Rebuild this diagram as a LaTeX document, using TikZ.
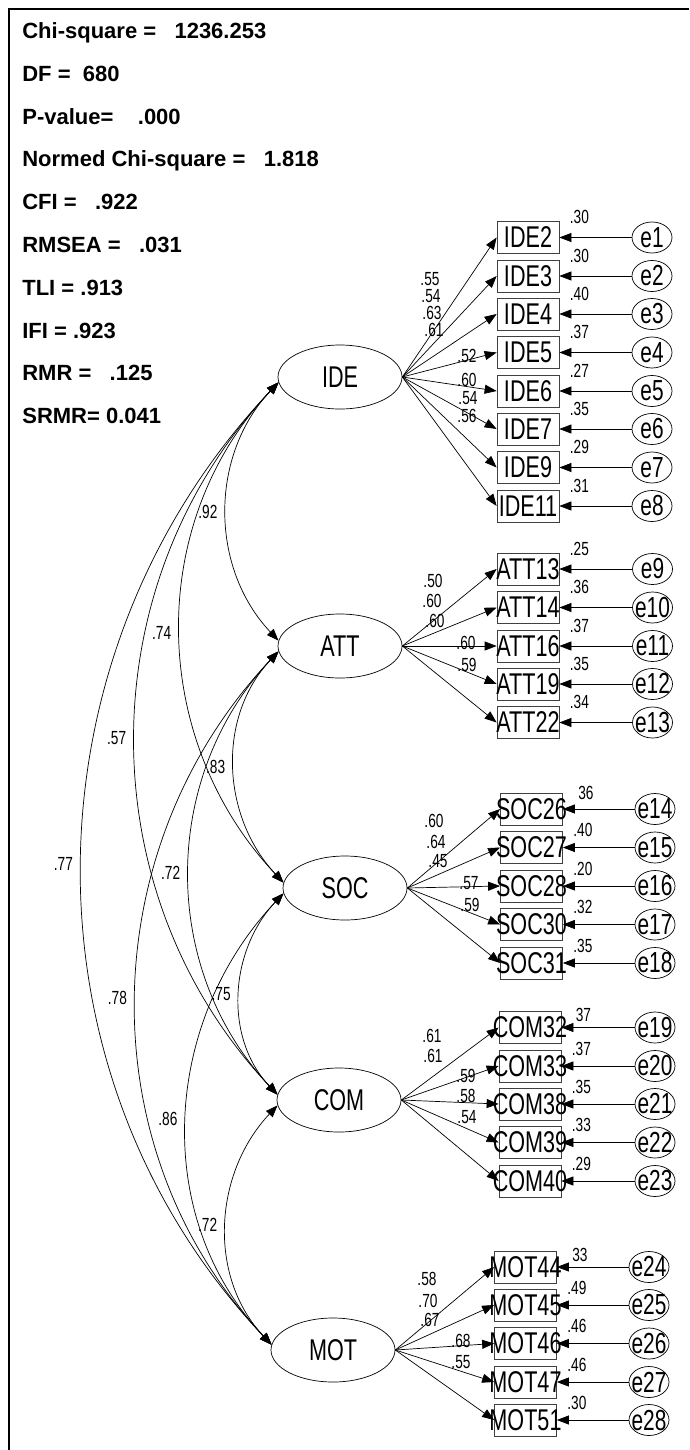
\documentclass[tikz,border=0pt]{standalone}
\usepackage{fontspec}
\setmainfont{Liberation Sans}
\newfontfamily\amosfont[FakeStretch=0.72]{Liberation Sans}
\usetikzlibrary{arrows.meta,calc,shapes.geometric}

\begin{document}
\begin{tikzpicture}[
    x = 1pt,
    y = -1pt,
    line width = 0.7pt,
    >={Triangle[length=12pt,width=9pt]},
    nowidth/.style = {
      execute at begin node = {\hbox to 0pt\bgroup\hss},
      execute at end node = {\hss\egroup}
    },
    fitline/.style = {
      anchor = base west,
      inner sep = 0pt,
      font = \fontsize{22}{26}\selectfont\bfseries
    },
    latent/.style = {
      draw,
      ellipse,
      minimum width = 124pt,
      minimum height = 64pt,
      inner sep = 0pt,
      font = \amosfont\fontsize{30}{30}\selectfont
    },
    ind/.style = {
      draw = black!75,
      rectangle,
      nowidth,
      minimum width = 62pt,
      minimum height = 32pt,
      inner sep = 0pt,
      font = \amosfont\fontsize{30}{30}\selectfont
    },
    err/.style = {
      draw,
      ellipse,
      nowidth,
      minimum width = 40pt,
      minimum height = 31pt,
      inner sep = 0pt,
      font = \amosfont\fontsize{29}{29}\selectfont
    },
    num/.style = {
      inner sep = 0pt,
      font = \amosfont\fontsize{19}{19}\selectfont
    }
  ]
  \useasboundingbox (0,0) rectangle (689,1450);

  \draw[line width = 2pt] (9,1450) -- (9,9) -- (689,9);

  \node[fitline] (chisq) at (22,38.5)  {Chi-square =~~~1236.253};
  \node[fitline] (df)    at (22,81.3)  {DF =~~680};
  \node[fitline] (pval)  at (22,124.1) {P-value=~~~~.000};
  \node[fitline] (cmin)  at (22,166.9) {Normed Chi-square =~~~1.818};
  \node[fitline] (cfi)   at (22,209.7) {CFI =~~~.922};
  \node[fitline] (rmsea) at (22,252.5) {RMSEA =~~~.031};
  \node[fitline] (tli)   at (22,295.3) {TLI =~.913};
  \node[fitline] (ifi)   at (22,338.1) {IFI =~.923};
  \node[fitline] (rmr)   at (22,380.9) {RMR =~~~.125};
  \node[fitline] (srmr)  at (22,423.7) {SRMR=~0.041};

  \node[latent] (IDE) at (340,377)  {IDE};
  \node[latent] (ATT) at (340,646)  {ATT};
  \node[latent] (SOC) at (345,888)  {SOC};
  \node[latent] (COM) at (339,1100) {COM};
  \node[latent] (MOT) at (333,1350) {MOT};


  \node[ind] (IDE2)  at (528,237.5) {IDE2};
  \node[ind] (IDE3)  at (528,276)   {IDE3};
  \node[ind] (IDE4)  at (528,314)   {IDE4};
  \node[ind] (IDE5)  at (528,352.5) {IDE5};
  \node[ind] (IDE6)  at (528,391)   {IDE6};
  \node[ind] (IDE7)  at (528,429)   {IDE7};
  \node[ind] (IDE9)  at (528,467.5) {IDE9};
  \node[ind] (IDE11) at (528,506)   {IDE11};

  \node[ind] (ATT13) at (528,569)   {ATT13};
  \node[ind] (ATT14) at (528,607.5) {ATT14};
  \node[ind] (ATT16) at (528,646)   {ATT16};
  \node[ind] (ATT19) at (528,684)   {ATT19};
  \node[ind] (ATT22) at (528,722.5) {ATT22};

  \node[ind] (SOC26) at (531.5,809)   {SOC26};
  \node[ind] (SOC27) at (531.5,847.5) {SOC27};
  \node[ind] (SOC28) at (531.5,886)   {SOC28};
  \node[ind] (SOC30) at (531.5,924.5) {SOC30};
  \node[ind] (SOC31) at (531.5,963)   {SOC31};

  \node[ind] (COM32) at (530,1027.5) {COM32};
  \node[ind] (COM33) at (530,1066)   {COM33};
  \node[ind] (COM38) at (530,1104)   {COM38};
  \node[ind] (COM39) at (530,1142.5) {COM39};
  \node[ind] (COM40) at (530,1181)   {COM40};

  \node[ind] (MOT44) at (525.5,1267)   {MOT44};
  \node[ind] (MOT45) at (525.5,1305)   {MOT45};
  \node[ind] (MOT46) at (525.5,1343.5) {MOT46};
  \node[ind] (MOT47) at (525.5,1382)   {MOT47};
  \node[ind] (MOT51) at (525.5,1420)   {MOT51};


  \node[err] (e1) at (652,237.5) {e1};
  \node[err] (e2) at (652,276)   {e2};
  \node[err] (e3) at (652,314)   {e3};
  \node[err] (e4) at (652,352.5) {e4};
  \node[err] (e5) at (652,391)   {e5};
  \node[err] (e6) at (652,429)   {e6};
  \node[err] (e7) at (652,467.5) {e7};
  \node[err] (e8) at (652,506)   {e8};

  \node[err] (e9)  at (652.5,569)   {e9};
  \node[err] (e10) at (652.5,607.5) {e10};
  \node[err] (e11) at (652.5,646)   {e11};
  \node[err] (e12) at (652.5,684)   {e12};
  \node[err] (e13) at (652.5,722.5) {e13};

  \node[err] (e14) at (655,809)   {e14};
  \node[err] (e15) at (655,847.5) {e15};
  \node[err] (e16) at (655,886)   {e16};
  \node[err] (e17) at (655,924.5) {e17};
  \node[err] (e18) at (655,963)   {e18};

  \node[err] (e19) at (655,1027.5) {e19};
  \node[err] (e20) at (655,1066)   {e20};
  \node[err] (e21) at (655,1104)   {e21};
  \node[err] (e22) at (655,1142.5) {e22};
  \node[err] (e23) at (655,1181)   {e23};

  \node[err] (e24) at (649,1267)   {e24};
  \node[err] (e25) at (649,1305)   {e25};
  \node[err] (e26) at (649,1343.5) {e26};
  \node[err] (e27) at (649,1382)   {e27};
  \node[err] (e28) at (649,1420)   {e28};


  \node[num] at ($(IDE2.north east)+(20,-4)$)  {.30};
  \node[num] at ($(IDE3.north east)+(20,-4)$)  {.30};
  \node[num] at ($(IDE4.north east)+(20,-4)$)  {.40};
  \node[num] at ($(IDE5.north east)+(20,-4)$)  {.37};
  \node[num] at ($(IDE6.north east)+(20,-4)$)  {.27};
  \node[num] at ($(IDE7.north east)+(20,-4)$)  {.35};
  \node[num] at ($(IDE9.north east)+(20,-4)$)  {.29};
  \node[num] at ($(IDE11.north east)+(20,-4)$) {.31};

  \node[num] at ($(ATT13.north east)+(20,-4)$) {.25};
  \node[num] at ($(ATT14.north east)+(20,-4)$) {.36};
  \node[num] at ($(ATT16.north east)+(20,-4)$) {.37};
  \node[num] at ($(ATT19.north east)+(20,-4)$) {.35};
  \node[num] at ($(ATT22.north east)+(20,-4)$) {.34};

  \node[num] at ($(SOC26.north east)+(23,0)$)  {36};
  \node[num] at ($(SOC27.north east)+(20,-1)$) {.40};
  \node[num] at ($(SOC28.north east)+(20,-1)$) {.20};
  \node[num] at ($(SOC30.north east)+(20,-1)$) {.32};
  \node[num] at ($(SOC31.north east)+(20,-1)$) {.35};

  \node[num] at ($(COM32.north east)+(22,4)$)  {37};
  \node[num] at ($(COM33.north east)+(20,-1)$) {.37};
  \node[num] at ($(COM38.north east)+(20,-1)$) {.35};
  \node[num] at ($(COM39.north east)+(20,-1)$) {.33};
  \node[num] at ($(COM40.north east)+(20,-1)$) {.29};

  \node[num] at ($(MOT44.north east)+(23,4)$)  {33};
  \node[num] at ($(MOT45.north east)+(20,-1)$) {.49};
  \node[num] at ($(MOT46.north east)+(20,-1)$) {.46};
  \node[num] at ($(MOT47.north east)+(20,-1)$) {.46};
  \node[num] at ($(MOT51.north east)+(20,-1)$) {.30};


  \node[num] at (430,279) {.55};
  \node[num] at (431,296) {.54};
  \node[num] at (432,313) {.63};
  \node[num] at (434,330) {.61};
  \node[num] at (467,356) {.52};
  \node[num] at (467,380) {.60};
  \node[num] at (468,398) {.54};
  \node[num] at (467,416) {.56};

  \node[num] at (433,581) {.50};
  \node[num] at (432,601) {.60};
  \node[num] at (435,621) {.60};
  \node[num] at (466,643) {.60};
  \node[num] at (467,665) {.59};

  \node[num] at (434,821) {.60};
  \node[num] at (436,842) {.64};
  \node[num] at (438,861) {.45};
  \node[num] at (469,883) {.57};
  \node[num] at (470,905) {.59};

  \node[num] at (432,1036) {.61};
  \node[num] at (433,1056) {.61};
  \node[num] at (466,1076) {.59};
  \node[num] at (466,1096) {.58};
  \node[num] at (467,1117) {.54};

  \node[num] at (427,1279) {.58};
  \node[num] at (428,1301) {.70};
  \node[num] at (430,1320) {.67};
  \node[num] at (461,1341) {.68};
  \node[num] at (461,1362) {.55};


  \draw[->] (IDE.east) -- (IDE2.west);
  \draw[->] (IDE.east) -- (IDE3.west);
  \draw[->] (IDE.east) -- (IDE4.west);
  \draw[->] (IDE.east) -- (IDE5.west);
  \draw[->] (IDE.east) -- (IDE6.west);
  \draw[->] (IDE.east) -- (IDE7.west);
  \draw[->] (IDE.east) -- (IDE9.west);
  \draw[->] (IDE.east) -- (IDE11.west);

  \draw[->] (ATT.east) -- (ATT13.west);
  \draw[->] (ATT.east) -- (ATT14.west);
  \draw[->] (ATT.east) -- (ATT16.west);
  \draw[->] (ATT.east) -- (ATT19.west);
  \draw[->] (ATT.east) -- (ATT22.west);

  \draw[->] (SOC.east) -- (SOC26.west);
  \draw[->] (SOC.east) -- (SOC27.west);
  \draw[->] (SOC.east) -- (SOC28.west);
  \draw[->] (SOC.east) -- (SOC30.west);
  \draw[->] (SOC.east) -- (SOC31.west);

  \draw[->] (COM.east) -- (COM32.west);
  \draw[->] (COM.east) -- (COM33.west);
  \draw[->] (COM.east) -- (COM38.west);
  \draw[->] (COM.east) -- (COM39.west);
  \draw[->] (COM.east) -- (COM40.west);

  \draw[->] (MOT.east) -- (MOT44.west);
  \draw[->] (MOT.east) -- (MOT45.west);
  \draw[->] (MOT.east) -- (MOT46.west);
  \draw[->] (MOT.east) -- (MOT47.west);
  \draw[->] (MOT.east) -- (MOT51.west);


  \draw[->] (e1) -- (IDE2);
  \draw[->] (e2) -- (IDE3);
  \draw[->] (e3) -- (IDE4);
  \draw[->] (e4) -- (IDE5);
  \draw[->] (e5) -- (IDE6);
  \draw[->] (e6) -- (IDE7);
  \draw[->] (e7) -- (IDE9);
  \draw[->] (e8) -- (IDE11);

  \draw[->] (e9) -- (ATT13);
  \draw[->] (e10) -- (ATT14);
  \draw[->] (e11) -- (ATT16);
  \draw[->] (e12) -- (ATT19);
  \draw[->] (e13) -- (ATT22);

  \draw[->] (e14) -- (SOC26);
  \draw[->] (e15) -- (SOC27);
  \draw[->] (e16) -- (SOC28);
  \draw[->] (e17) -- (SOC30);
  \draw[->] (e18) -- (SOC31);

  \draw[->] (e19) -- (COM32);
  \draw[->] (e20) -- (COM33);
  \draw[->] (e21) -- (COM38);
  \draw[->] (e22) -- (COM39);
  \draw[->] (e23) -- (COM40);

  \draw[->] (e24) -- (MOT44);
  \draw[->] (e25) -- (MOT45);
  \draw[->] (e26) -- (MOT46);
  \draw[->] (e27) -- (MOT47);
  \draw[->] (e28) -- (MOT51);


  \draw[<->] (IDE.185) .. controls ($(IDE.185)+(-69,73)$) and ($(ATT.175)+(-69,-73)$) .. (ATT.175)
    node[num, pos=0.5, left=9pt] {.92};
  \draw[<->] (IDE.185) .. controls ($(IDE.185)+(-134,142)$) and ($(SOC.175)+(-134,-142)$) .. (SOC.175)
    node[num, pos=0.5, left=9pt] {.74};
  \draw[<->] (IDE.185) .. controls ($(IDE.185)+(-190,202)$) and ($(COM.175)+(-190,-202)$) .. (COM.175)
    node[num, pos=0.5, left=9pt] {.57};
  \draw[<->] (IDE.185) .. controls ($(IDE.185)+(-257,272)$) and ($(MOT.175)+(-257,-272)$) .. (MOT.175)
    node[num, pos=0.5, left=9pt] {.77};

  \draw[<->] (ATT.185) .. controls ($(ATT.185)+(-62,66)$) and ($(SOC.175)+(-62,-66)$) .. (SOC.175)
    node[num, pos=0.5, left=9pt] {.83};
  \draw[<->] (ATT.185) .. controls ($(ATT.185)+(-118,126)$) and ($(COM.175)+(-118,-126)$) .. (COM.175)
    node[num, pos=0.5, left=9pt] {.72};
  \draw[<->] (ATT.185) .. controls ($(ATT.185)+(-185,196)$) and ($(MOT.175)+(-185,-196)$) .. (MOT.175)
    node[num, pos=0.5, left=9pt] {.78};

  \draw[<->] (SOC.185) .. controls ($(SOC.185)+(-54,57)$) and ($(COM.175)+(-54,-57)$) .. (COM.175)
    node[num, pos=0.5, left=9pt] {.75};
  \draw[<->] (SOC.185) .. controls ($(SOC.185)+(-121,128)$) and ($(MOT.175)+(-121,-128)$) .. (MOT.175)
    node[num, pos=0.5, left=9pt] {.86};

  \draw[<->] (COM.185) .. controls ($(COM.185)+(-64,68)$) and ($(MOT.175)+(-64,-68)$) .. (MOT.175)
    node[num, pos=0.5, left=9pt] {.72};
\end{tikzpicture}
\end{document}
